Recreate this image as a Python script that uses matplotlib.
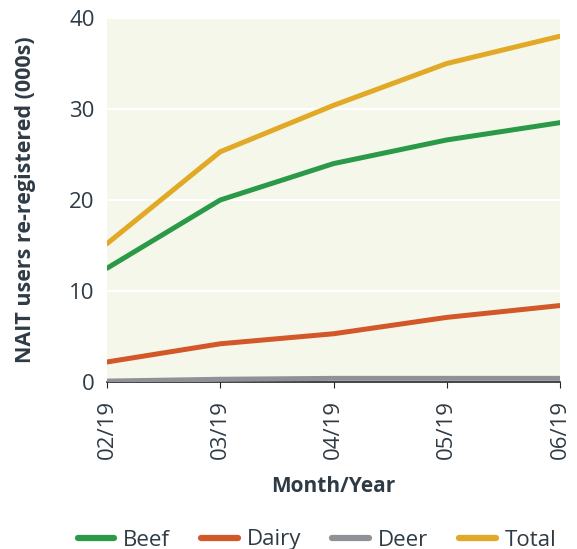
import matplotlib
matplotlib.use("Agg")
import matplotlib.pyplot as plt

months = ["02/19", "03/19", "04/19", "05/19", "06/19"]
beef = [12.5, 20.0, 24.0, 26.6, 28.5]
dairy = [2.2, 4.2, 5.3, 7.1, 8.4]
deer = [0.1, 0.3, 0.4, 0.4, 0.4]
total = [15.2, 25.3, 30.4, 35.0, 38.0]
yticks = [0, 10, 20, 30, 40]

plt.rcParams['font.family'] = ['Open Sans', 'DejaVu Sans']
txt = "#2E3B45"

fig = plt.figure(figsize=(5.77, 5.49), dpi=100)
ax = fig.add_axes([107/577, 1-382/549, (560-107)/577, (382-18)/549])
ax.set_facecolor("#F5F7EA")
x = list(range(len(months)))
lw = 3.6
ax.plot(x, beef, color="#2A9A48", lw=lw, solid_capstyle="round", label="Beef", zorder=3)
ax.plot(x, dairy, color="#D2582A", lw=lw, solid_capstyle="round", label="Dairy", zorder=3)
ax.plot(x, deer, color="#8E9297", lw=lw, solid_capstyle="round", label="Deer", zorder=3)
ax.plot(x, total, color="#E2A927", lw=lw, solid_capstyle="round", label="Total", zorder=3)

ax.set_xlim(0, 4)
ax.set_ylim(0, 40)
ax.set_yticks(yticks)
ax.set_xticks(x)
ax.set_xticklabels(months, rotation=90)
ax.grid(axis='y', color='white', lw=1.5, zorder=1)
for s in ["top", "right", "left"]:
    ax.spines[s].set_visible(False)
ax.spines["bottom"].set_color("#222222")
ax.spines["bottom"].set_linewidth(1.2)
ax.spines["bottom"].set_zorder(2)
ax.tick_params(axis='y', length=0, labelsize=16, labelcolor=txt, pad=9)
ax.tick_params(axis='x', length=4, color="#222222", labelsize=16, labelcolor=txt, pad=9)
ax.set_ylabel("NAIT users re-registered (000s)", fontsize=15.5, fontweight='bold', color=txt, labelpad=24)
ax.set_xlabel("Month/Year", fontsize=15, fontweight='bold', color=txt, labelpad=12)

leg = fig.legend(loc='center', bbox_to_anchor=(317/577, 1-540/549), ncol=4, frameon=False,
                 fontsize=16, handlelength=1.65, columnspacing=1.4, handletextpad=0.4,
                 borderpad=0, labelcolor=txt)
for h in leg.get_lines():
    h.set_linewidth(4.5)
fig.savefig("out.png", dpi=100)
